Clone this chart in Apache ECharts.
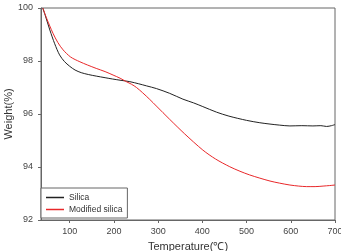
<!DOCTYPE html>
<html>
<head>
<meta charset="utf-8">
<script src="https://cdn.jsdelivr.net/npm/echarts@6/dist/echarts.min.js"></script>
<style>
  html, body { margin: 0; padding: 0; background: #fff; }
  #chart { width: 341px; height: 251px; }
</style>
</head>
<body>
<div id="chart"></div>
<script>
const xTicks = [100, 200, 300, 400, 500, 600, 700]
const yTicks = [92, 94, 96, 98, 100]

const silicaTemp = [39, 45, 55, 66, 77, 88, 100, 112, 126, 142, 160, 180, 197, 216, 236, 256, 274, 296, 326, 356, 380, 401, 432, 460, 500, 530, 553, 575, 598, 625, 650, 668, 681, 692, 700]
const silicaWeight = [100, 99.7, 99.17, 98.65, 98.23, 97.98, 97.8, 97.66, 97.56, 97.49, 97.43, 97.37, 97.32, 97.27, 97.22, 97.14, 97.06, 96.96, 96.78, 96.56, 96.42, 96.28, 96.07, 95.92, 95.76, 95.67, 95.62, 95.58, 95.55, 95.56, 95.55, 95.56, 95.53, 95.56, 95.6]

const modTemp = [39, 48, 62, 73, 85, 102, 123, 140, 160, 180, 198, 214, 228, 240, 251, 265, 281, 296, 326, 360, 401, 430, 462, 485, 507, 530, 553, 575, 598, 618, 636, 655, 673, 688, 700]
const modWeight = [100, 99.6, 99.05, 98.7, 98.42, 98.15, 97.97, 97.85, 97.72, 97.6, 97.47, 97.35, 97.22, 97.12, 97.0, 96.8, 96.55, 96.3, 95.8, 95.25, 94.64, 94.3, 94.01, 93.84, 93.7, 93.58, 93.47, 93.39, 93.32, 93.28, 93.26, 93.26, 93.28, 93.3, 93.32]

const silicaData = silicaTemp.map((t, i) => [t, silicaWeight[i]])
const modData = modTemp.map((t, i) => [t, modWeight[i]])

const chart = echarts.init(document.getElementById('chart'))

const labelStyle = {
  color: '#444',
  fontSize: 9,
  fontFamily: 'Liberation Sans, Arial, sans-serif'
}

const option = {
  animation: false,
  textStyle: { fontFamily: 'Liberation Sans, Arial, sans-serif' },
  grid: {
    left: 41,
    right: 6,
    top: 8,
    bottom: 31,
    outerBoundsMode: 'none',
    containLabel: false,
    show: true,
    borderColor: '#666',
    borderWidth: 1
  },
  legend: {
    orient: 'vertical',
    left: 41,
    top: 188,
    padding: [5, 5, 4, 5],
    itemGap: 3,
    itemWidth: 18,
    itemHeight: 1.5,
    icon: 'rect',
    borderColor: '#666',
    borderWidth: 1,
    backgroundColor: '#fff',
    textStyle: { color: '#333', fontSize: 8.5, padding: [0, 0, 0, 0] },
    data: ['Silica', 'Modified silica']
  },
  xAxis: {
    type: 'value',
    min: 35,
    max: 700,
    name: 'Temperature(\u2103)',
    nameLocation: 'middle',
    nameGap: 21,
    nameMoveOverlap: false,
    nameTextStyle: { color: '#333', fontSize: 11 },
    axisLine: { show: true, lineStyle: { color: '#666' } },
    axisTick: {
      show: true,
      length: 3,
      customValues: xTicks,
      lineStyle: { color: '#666' }
    },
    axisLabel: Object.assign({ customValues: xTicks, margin: 7 }, labelStyle),
    splitLine: { show: false }
  },
  yAxis: {
    type: 'value',
    min: 92,
    max: 100,
    interval: 2,
    name: 'Weight(%)',
    nameLocation: 'middle',
    nameGap: 27,
    nameMoveOverlap: false,
    nameTextStyle: { color: '#333', fontSize: 11 },
    axisLine: { show: true, lineStyle: { color: '#666' } },
    axisTick: { show: true, length: 3, lineStyle: { color: '#666' } },
    axisLabel: Object.assign({ margin: 8 }, labelStyle),
    splitLine: { show: false }
  },
  series: [{
    name: 'Silica',
    type: 'line',
    data: silicaData,
    smooth: 0.3,
    showSymbol: false,
    lineStyle: { color: '#222', width: 1 },
    itemStyle: { color: '#222' }
  }, {
    name: 'Modified silica',
    type: 'line',
    data: modData,
    smooth: 0.3,
    showSymbol: false,
    lineStyle: { color: '#e8282a', width: 1 },
    itemStyle: { color: '#e8282a' }
  }]
}

chart.setOption(option)
</script>
</body>
</html>
